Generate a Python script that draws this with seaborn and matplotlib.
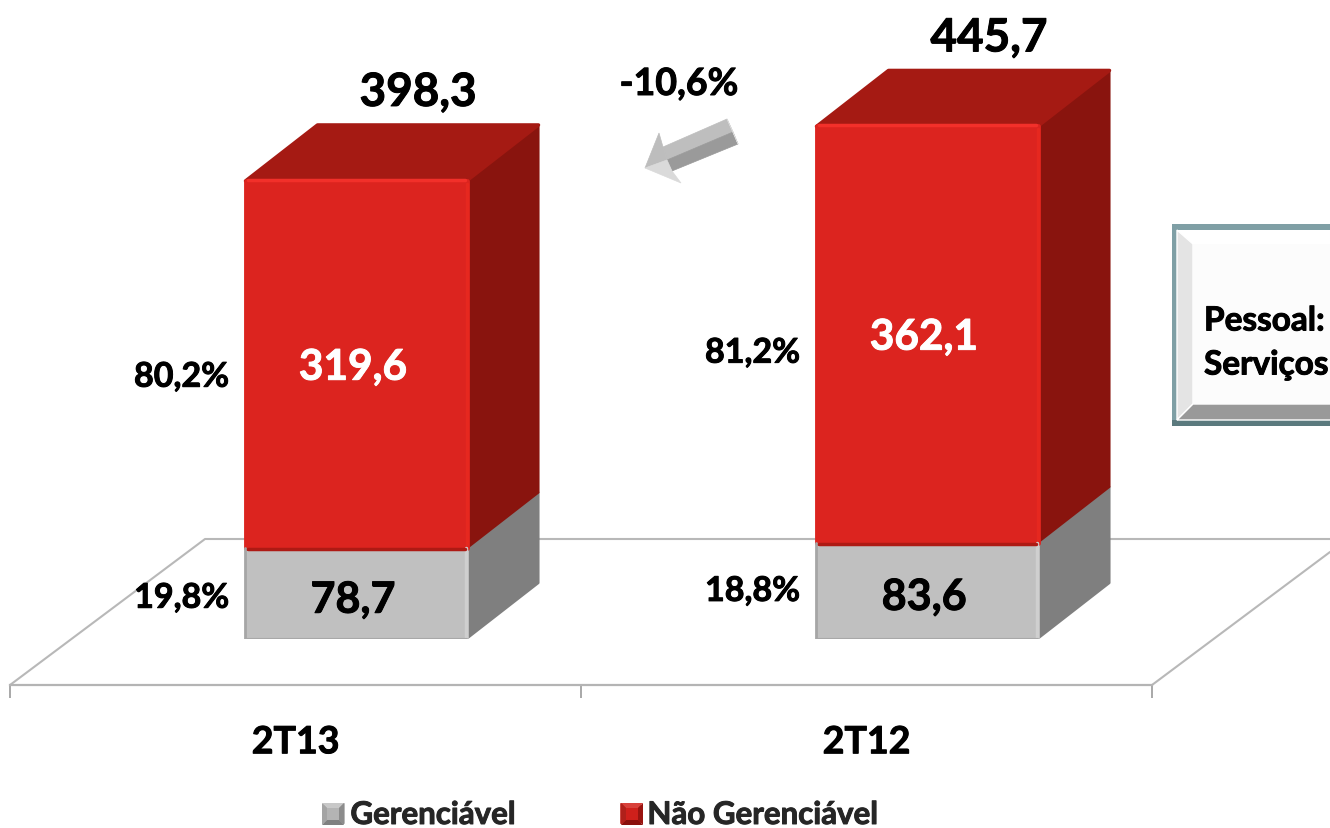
"""
Despesas 2T13 x 2T12: barras empilhadas com aparencia 3D.
"""
import pandas as pd
import matplotlib.pyplot as plt
import matplotlib.patheffects as pe
import seaborn as sns
from matplotlib.patches import Patch, Polygon, Rectangle
from matplotlib.text import Text

periodos = ['2T13', '2T12']
gerenciavel = [78.7, 83.6]
nao_gerenciavel = [319.6, 362.1]
totais = [398.3, 445.7]
pct_gerenciavel = [19.8, 18.8]
pct_nao_gerenciavel = [80.2, 81.2]
variacao = '-10,6%'
caixa_linhas = ['Pessoal:', 'Serviços']

W, H = 1330, 829
PX_POR_UNID = 1.15
FONTE = 'Lato'


def br(v):
    return f'{v:.1f}'.replace('.', ',')


def bevel_square(ax, x0, y0, s, cores):
    # quadradinho da legenda com 4 faces
    m = (x0 + s / 2, y0 + s / 2)
    cantos = [(x0, y0), (x0 + s, y0), (x0 + s, y0 + s), (x0, y0 + s)]
    for i, c in enumerate(cores[:4]):
        ax.add_patch(Polygon([cantos[i], cantos[(i + 1) % 4], m], facecolor=c, edgecolor='none', zorder=6))
    f = s * 0.22
    ax.add_patch(Rectangle((x0 + f, y0 + f), s - 2 * f, s - 2 * f, facecolor=cores[4], edgecolor='none', zorder=7))


def run():
    sns.set_theme(style='white')
    plt.rcParams['font.family'] = [FONTE, 'DejaVu Sans']
    plt.rcParams['font.weight'] = 'bold'

    fig = plt.figure(figsize=(W / 100, H / 100), dpi=100, facecolor='white')

    # camada em pixels para o piso, seta e caixa
    deco = fig.add_axes([0, 0, 1, 1], zorder=1)
    deco.set_xlim(0, W)
    deco.set_ylim(H, 0)
    deco.axis('off')

    # eixo das categorias (linha frontal do piso)
    base = fig.add_axes([10 / W, (H - 686) / H, 1142 / W, 0.001], zorder=2)
    base.patch.set_alpha(0)
    base.set_xlim(-0.5, 1.5)
    base.set_ylim(0, 1)
    base.set_xticks([-0.5, 0.5, 1.5], labels=[])
    base.set_xticks([0, 1], labels=periodos, minor=True)
    base.set_yticks([])
    for s in ['top', 'left', 'right']:
        base.spines[s].set_visible(False)
    base.spines['bottom'].set_color('#B4B4B4')
    base.spines['bottom'].set_linewidth(1.6)
    base.tick_params(axis='x', which='major', length=9.5, width=1.2, color='#9A9A9A', bottom=True)
    base.tick_params(axis='x', which='minor', length=0, pad=29, labelsize=27, labelcolor='black')

    # piso em perspectiva
    cor_piso = '#B8B8B8'
    deco.plot([10, 205, W], [686, 540, 540], color=cor_piso, lw=1.5, zorder=1)
    deco.plot([1152, 1330], [686, 553], color=cor_piso, lw=1.5, zorder=1)

    # barras
    ax = fig.add_axes([70.5 / W, (H - 640) / H, 1142 / W, 640 / H], zorder=3)
    ax.patch.set_alpha(0)
    df = pd.DataFrame({'periodo': periodos, 'ger': gerenciavel, 'nao': nao_gerenciavel})
    larg = 221 / 571
    sns.barplot(data=df, x='periodo', y='ger', color='#C0C0C0', saturation=1, width=larg, ax=ax,
                linewidth=2, edgecolor='#C0C0C0', zorder=3, order=periodos)
    sns.barplot(data=df, x='periodo', y='nao', bottom=df['ger'].values, color='#DC241F', saturation=1, width=larg,
                ax=ax, linewidth=3.5, edgecolor='#DC241F', joinstyle='round', zorder=3, order=periodos)
    ax.set_xlim(-0.5, 1.5)
    ax.set_ylim(0, 640 / PX_POR_UNID)
    ax.axis('off')

    dx = 72 / 571
    dy = 56 / PX_POR_UNID
    n = len(periodos)
    cinzas = ax.patches[:n]
    vermelhos = ax.patches[n:]

    def faces(p, cor_lado, cor_topo=None):
        x0, x1 = p.get_x(), p.get_x() + p.get_width()
        y0, y1 = p.get_y(), p.get_y() + p.get_height()
        ax.add_patch(Polygon([(x1, y1), (x1 + dx, y1 + dy), (x1 + dx, y0 + dy), (x1, y0)],
                             facecolor=cor_lado, edgecolor=cor_lado, lw=1.5, joinstyle='round', zorder=2))
        if cor_topo:
            ax.add_patch(Polygon([(x0, y1), (x0 + dx, y1 + dy), (x1 + dx, y1 + dy), (x1, y1)],
                                 facecolor=cor_topo, edgecolor=cor_topo, lw=2.5, joinstyle='round', zorder=2))

    for p in list(cinzas):
        faces(p, '#7F7F7F')
    for p in list(vermelhos):
        faces(p, '#89140E', '#A51A13')

    # brilhos nas arestas das barras
    px = 1 / 571
    py = 1 / PX_POR_UNID
    for p in list(cinzas):
        x0, x1 = p.get_x(), p.get_x() + p.get_width()
        y0, y1 = p.get_y(), p.get_y() + p.get_height()
        ax.plot([x0 - 1 * px] * 2, [y0, y1], color='#A6A6A6', lw=2, zorder=4)
        ax.plot([x1 - 1 * px] * 2, [y0, y1], color='#CFCFCF', lw=2.5, zorder=4)
        ax.plot([x0, x1], [y0 + 0.5 * py] * 2, color='#A8A8A8', lw=1.5, zorder=4)
    for p in list(vermelhos):
        x0, x1 = p.get_x(), p.get_x() + p.get_width()
        y0, y1 = p.get_y(), p.get_y() + p.get_height()
        ax.plot([x0 + 2 * px, x1 - 2 * px], [y1 + 1 * py] * 2, color='#F2302A', lw=2.5, zorder=4, solid_capstyle='round')
        ax.plot([x0 + 2 * px, x1 - 2 * px], [y0 - 1 * py] * 2, color='#AE1A14', lw=2.5, zorder=4, solid_capstyle='round')
        ax.plot([x1] * 2, [y0 + 4 * py, y1 - 3 * py], color='#E6281F', lw=2.5, zorder=4)

    # rotulos de valor
    desloc_pct_nao = [12, 18]
    desloc_pct_ger = [4, 0]
    for i in range(n):
        xc = i
        g, v = gerenciavel[i], nao_gerenciavel[i]
        ax.text(xc - 3 * px, g / 2 - 6 * py, br(g), ha='center', va='center', fontsize=31, color='black', zorder=5)
        ax.text(xc - 3 * px, g + v / 2 - 3 * py, br(v), ha='center', va='center', fontsize=30.5, color='white', zorder=5)
        ax.text(xc + 62 * px, totais[i] + 88 * py, br(totais[i]), ha='center', va='center', fontsize=33,
                color='black', zorder=5, clip_on=False)
        xp = xc - 127 * px
        ax.text(xp, g / 2 - desloc_pct_ger[i] * py, br(pct_gerenciavel[i]) + '%', ha='right', va='center',
                fontsize=24.5, color='black', clip_on=False, zorder=5)
        ax.text(xp, g + v / 2 - desloc_pct_nao[i] * py, br(pct_nao_gerenciavel[i]) + '%', ha='right', va='center',
                fontsize=24.5, color='black', clip_on=False, zorder=5)

    # seta de variacao
    faces_seta = [
        ([(663, 148), (727, 120), (733, 133), (667, 161)], '#BEBEBE'),
        ([(667, 161), (733, 133), (738, 145), (672, 172)], '#9A9A9A'),
        ([(727, 120), (738, 145), (733, 133)], '#D8D8D8'),
        ([(645, 169), (659, 134), (663, 148), (667, 161)], '#BDBDBD'),
        ([(645, 169), (667, 161), (672, 172), (681, 184)], '#DADADA'),
    ]
    for pts, cor in faces_seta:
        deco.add_patch(Polygon(pts, facecolor=cor, edgecolor=cor, lw=0.5, zorder=3))
    deco.text(679, 85, variacao, ha='center', va='center', fontsize=27, color='black', zorder=5)

    # caixa de texto na borda direita
    deco.add_patch(Rectangle((1172, 225), 170, 202, facecolor='#7F9FA5', edgecolor='none', zorder=3))
    deco.add_patch(Rectangle((1172, 421), 170, 6, facecolor='#5B7A7E', edgecolor='none', zorder=3))
    deco.add_patch(Rectangle((1177, 231), 165, 190, facecolor='#FFFFFF', edgecolor='none', zorder=3))
    deco.add_patch(Polygon([(1177, 231), (1193, 245), (1193, 405), (1177, 421)], facecolor='#E4E4E4', zorder=3))
    deco.add_patch(Polygon([(1177, 421), (1193, 405), (1342, 405), (1342, 421)], facecolor='#999999', zorder=3))
    deco.add_patch(Rectangle((1193, 245), 149, 160, facecolor='#FCFCFC', edgecolor='none', zorder=3))
    for txt, y in zip(caixa_linhas, [322, 366]):
        deco.text(1204, y, txt, ha='left', va='center', fontsize=24, color='black', zorder=5)

    # legenda
    handles = [Patch(facecolor='#A8A8A8', label='Gerenciável'), Patch(facecolor='#C0201A', label='Não Gerenciável')]
    deco.legend(handles=handles, loc='center left', bbox_to_anchor=(322 / W, (H - 816) / H), ncol=2, frameon=False,
                fontsize=22.5, handlelength=0.72, handleheight=0.72, handletextpad=0.19, columnspacing=3.3,
                borderpad=0, borderaxespad=0)
    bevel_square(deco, 322, 804, 22, ['#C8C8C8', '#8C8C8C', '#808080', '#A4A4A4', '#B4B4B4'])
    bevel_square(deco, 621, 804, 22, ['#D8403A', '#9A1410', '#8A100C', '#B0201A', '#CF201B'])

    # reforco do negrito, a fonte original e mais pesada
    for t in fig.findobj(Text):
        t.set_path_effects([pe.withStroke(linewidth=0.7, foreground=t.get_color())])

    fig.savefig('out.png', dpi=100, facecolor='white')


if __name__ == '__main__':
    run()
